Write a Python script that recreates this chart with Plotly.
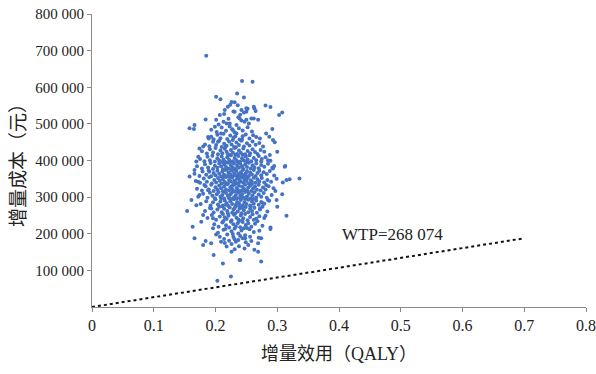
import plotly.graph_objects as go

# Probabilistic sensitivity analysis draws: (incremental QALY, incremental cost in yuan)
psa_draws = [
    # sparse outer points
    (0.185, 686000), (0.243, 617000), (0.260, 615000), (0.235, 583000), (0.246, 572000),
    (0.201, 574000), (0.208, 567000), (0.226, 560000), (0.231, 559000), (0.236, 551000),
    (0.220, 547000), (0.262, 547000), (0.281, 550000), (0.289, 546000), (0.250, 543000),
    (0.158, 488000), (0.166, 497000), (0.165, 486000), (0.184, 512000), (0.207, 524000),
    (0.215, 538000), (0.218, 501000), (0.199, 492000), (0.193, 465000), (0.189, 460000),
    (0.180, 438000), (0.174, 433000), (0.172, 410000), (0.169, 397000), (0.204, 451000),
    (0.209, 474000), (0.228, 483000), (0.223, 501000), (0.239, 515000), (0.247, 506000),
    (0.250, 533000), (0.231, 533000), (0.201, 511000), (0.242, 538000), (0.263, 542000),
    (0.265, 535000), (0.303, 524000), (0.308, 531000), (0.250, 511000), (0.258, 515000),
    (0.269, 511000), (0.292, 486000), (0.282, 474000), (0.287, 465000), (0.293, 456000),
    (0.296, 450000), (0.272, 460000), (0.277, 438000), (0.300, 424000), (0.288, 415000),
    (0.285, 401000), (0.295, 385000), (0.313, 385000), (0.274, 397000), (0.312, 383000),
    (0.320, 349000), (0.336, 351000), (0.315, 347000), (0.309, 340000), (0.297, 317000),
    (0.308, 308000), (0.299, 292000), (0.300, 274000), (0.285, 292000), (0.315, 249000),
    (0.289, 217000), (0.281, 249000), (0.293, 378000), (0.282, 333000), (0.272, 269000),
    (0.277, 283000), (0.163, 219000), (0.154, 262000), (0.161, 292000), (0.158, 356000),
    (0.166, 374000), (0.172, 342000), (0.174, 306000), (0.169, 278000), (0.180, 251000),
    (0.177, 233000), (0.188, 319000), (0.182, 333000), (0.193, 269000), (0.196, 242000),
    (0.190, 369000), (0.166, 188000), (0.180, 169000), (0.184, 180000), (0.193, 174000),
    (0.197, 142000), (0.212, 119000), (0.203, 72000), (0.225, 83000), (0.240, 128000),
    (0.218, 165000), (0.226, 151000), (0.231, 158000), (0.207, 192000), (0.209, 178000),
    (0.196, 215000), (0.201, 198000), (0.274, 188000), (0.270, 189000), (0.263, 156000),
    (0.269, 151000), (0.274, 124000), (0.258, 180000), (0.253, 169000), (0.247, 160000),
    (0.244, 188000), (0.239, 128000), (0.269, 174000), (0.289, 213000),
    # lower core
    (0.226, 172000), (0.238, 166000), (0.249, 177000), (0.215, 175000), (0.233, 178000),
    (0.214, 186000), (0.229, 191000), (0.237, 183000), (0.248, 188000), (0.222, 181000),
    (0.240, 194000), (0.256, 192000), (0.231, 185000),
    (0.204, 203000), (0.213, 211000), (0.219, 198000), (0.226, 207000), (0.231, 214000),
    (0.237, 201000), (0.242, 209000), (0.248, 196000), (0.255, 212000), (0.262, 205000),
    (0.228, 199000), (0.246, 215000), (0.216, 213000), (0.271, 208000),
    (0.198, 226000), (0.205, 219000), (0.211, 231000), (0.217, 223000), (0.222, 217000),
    (0.225, 233000), (0.229, 226000), (0.233, 220000), (0.236, 229000), (0.240, 218000),
    (0.244, 232000), (0.249, 224000), (0.253, 229000), (0.258, 219000), (0.264, 227000),
    (0.268, 234000), (0.213, 235000), (0.238, 235000), (0.251, 216000), (0.276, 222000),
    (0.187, 243000), (0.194, 251000), (0.201, 238000), (0.207, 247000), (0.212, 254000),
    (0.218, 240000), (0.221, 249000), (0.226, 237000), (0.230, 252000), (0.234, 244000),
    (0.237, 239000), (0.241, 250000), (0.245, 242000), (0.248, 254000), (0.252, 237000),
    (0.256, 246000), (0.260, 253000), (0.266, 241000), (0.271, 248000), (0.279, 243000),
    (0.215, 245000), (0.232, 255000), (0.243, 236000), (0.262, 238000),
    (0.183, 262000), (0.191, 270000), (0.197, 258000), (0.203, 266000), (0.206, 274000),
    (0.210, 259000), (0.214, 268000), (0.219, 262000), (0.223, 272000), (0.227, 257000),
    (0.229, 266000), (0.233, 275000), (0.236, 261000), (0.239, 269000), (0.242, 256000),
    (0.246, 264000), (0.249, 273000), (0.253, 259000), (0.256, 268000), (0.259, 262000),
    (0.263, 271000), (0.267, 257000), (0.272, 266000), (0.276, 274000), (0.284, 261000),
    (0.220, 256000), (0.231, 270000), (0.244, 270000), (0.257, 275000), (0.211, 275000),
    # middle core
    (0.176, 281000), (0.185, 289000), (0.192, 277000), (0.196, 286000), (0.200, 294000),
    (0.204, 280000), (0.208, 288000), (0.212, 277000), (0.215, 291000), (0.218, 283000),
    (0.221, 276000), (0.224, 289000), (0.227, 281000), (0.230, 294000), (0.233, 279000),
    (0.235, 287000), (0.238, 283000), (0.241, 292000), (0.244, 278000), (0.247, 286000),
    (0.250, 281000), (0.253, 293000), (0.256, 277000), (0.259, 288000), (0.262, 282000),
    (0.266, 291000), (0.270, 279000), (0.274, 287000), (0.279, 282000), (0.287, 290000),
    (0.226, 295000), (0.239, 276000), (0.248, 295000), (0.209, 296000), (0.261, 295000),
    (0.217, 279000),
    (0.172, 301000), (0.180, 309000), (0.187, 298000), (0.191, 312000), (0.195, 304000),
    (0.199, 297000), (0.202, 308000), (0.205, 314000), (0.208, 301000), (0.211, 306000),
    (0.214, 296000), (0.217, 311000), (0.220, 303000), (0.222, 297000), (0.225, 309000),
    (0.228, 315000), (0.230, 300000), (0.233, 306000), (0.235, 297000), (0.238, 312000),
    (0.240, 303000), (0.243, 308000), (0.245, 298000), (0.248, 314000), (0.251, 302000),
    (0.254, 309000), (0.257, 297000), (0.260, 305000), (0.263, 313000), (0.266, 299000),
    (0.270, 307000), (0.274, 301000), (0.278, 311000), (0.283, 298000), (0.291, 306000),
    (0.213, 315000), (0.236, 315000), (0.252, 316000), (0.223, 306000), (0.241, 296000),
    (0.170, 323000), (0.178, 318000), (0.184, 330000), (0.189, 321000), (0.193, 334000),
    (0.197, 317000), (0.200, 327000), (0.203, 320000), (0.206, 332000), (0.209, 324000),
    (0.212, 316000), (0.214, 329000), (0.217, 321000), (0.219, 335000), (0.222, 318000),
    (0.224, 327000), (0.227, 322000), (0.229, 333000), (0.231, 316000), (0.234, 325000),
    (0.236, 320000), (0.238, 331000), (0.241, 317000), (0.243, 328000), (0.246, 323000),
    (0.248, 334000), (0.251, 319000), (0.253, 326000), (0.256, 331000), (0.258, 317000),
    (0.261, 324000), (0.264, 329000), (0.267, 320000), (0.270, 334000), (0.273, 318000),
    (0.277, 326000), (0.281, 321000), (0.286, 330000), (0.294, 324000), (0.232, 336000),
    (0.244, 318000), (0.216, 337000), (0.259, 336000), (0.226, 330000),
    (0.168, 344000), (0.175, 339000), (0.181, 351000), (0.186, 342000), (0.190, 354000),
    (0.194, 337000), (0.198, 347000), (0.201, 340000), (0.204, 352000), (0.207, 345000),
    (0.210, 337000), (0.212, 349000), (0.215, 341000), (0.217, 355000), (0.220, 338000),
    (0.222, 347000), (0.225, 343000), (0.227, 353000), (0.229, 336000), (0.231, 345000),
    (0.233, 340000), (0.235, 351000), (0.237, 338000), (0.239, 347000), (0.241, 343000),
    (0.243, 354000), (0.245, 339000), (0.247, 348000), (0.250, 344000), (0.252, 352000),
    (0.254, 337000), (0.257, 346000), (0.259, 341000), (0.262, 353000), (0.265, 339000),
    (0.268, 349000), (0.271, 343000), (0.275, 352000), (0.279, 340000), (0.284, 347000),
    (0.290, 342000), (0.299, 350000), (0.236, 356000), (0.223, 356000), (0.249, 356000),
    (0.213, 357000),
    (0.166, 364000), (0.174, 358000), (0.179, 370000), (0.185, 361000), (0.189, 373000),
    (0.193, 357000), (0.197, 366000), (0.200, 360000), (0.203, 372000), (0.206, 364000),
    (0.209, 356000), (0.211, 369000), (0.214, 361000), (0.216, 374000), (0.219, 358000),
    (0.221, 367000), (0.224, 362000), (0.226, 373000), (0.228, 357000), (0.230, 366000),
    (0.232, 360000), (0.234, 371000), (0.237, 363000), (0.239, 356000), (0.241, 368000),
    (0.244, 374000), (0.246, 359000), (0.249, 365000), (0.251, 371000), (0.254, 358000),
    (0.256, 367000), (0.259, 362000), (0.262, 374000), (0.265, 358000), (0.268, 366000),
    (0.271, 372000), (0.274, 360000), (0.278, 368000), (0.283, 363000), (0.288, 371000),
    (0.295, 359000), (0.231, 376000), (0.243, 361000), (0.218, 376000),
    # upper core
    (0.170, 384000), (0.178, 378000), (0.183, 390000), (0.188, 381000), (0.192, 393000),
    (0.196, 377000), (0.199, 386000), (0.203, 380000), (0.206, 392000), (0.209, 384000),
    (0.212, 376000), (0.214, 389000), (0.217, 382000), (0.220, 394000), (0.222, 378000),
    (0.225, 387000), (0.228, 381000), (0.230, 392000), (0.233, 377000), (0.235, 386000),
    (0.238, 380000), (0.240, 391000), (0.243, 384000), (0.245, 377000), (0.248, 389000),
    (0.251, 382000), (0.254, 394000), (0.257, 378000), (0.260, 387000), (0.263, 381000),
    (0.266, 392000), (0.270, 379000), (0.274, 388000), (0.279, 383000), (0.285, 391000),
    (0.292, 380000), (0.236, 395000), (0.224, 396000), (0.250, 396000), (0.211, 396000),
    (0.175, 404000), (0.182, 398000), (0.187, 410000), (0.191, 401000), (0.195, 413000),
    (0.199, 397000), (0.203, 406000), (0.206, 400000), (0.210, 411000), (0.213, 403000),
    (0.216, 396000), (0.219, 409000), (0.222, 402000), (0.225, 414000), (0.228, 398000),
    (0.231, 407000), (0.234, 401000), (0.237, 412000), (0.240, 397000), (0.243, 406000),
    (0.246, 400000), (0.249, 411000), (0.252, 403000), (0.255, 414000), (0.258, 398000),
    (0.262, 407000), (0.266, 401000), (0.270, 412000), (0.275, 404000), (0.281, 409000),
    (0.289, 399000), (0.232, 416000), (0.244, 416000), (0.220, 417000),
    (0.178, 425000), (0.186, 419000), (0.191, 431000), (0.196, 422000), (0.200, 434000),
    (0.204, 417000), (0.208, 427000), (0.211, 420000), (0.215, 432000), (0.218, 424000),
    (0.222, 416000), (0.225, 429000), (0.228, 422000), (0.231, 434000), (0.235, 418000),
    (0.238, 427000), (0.241, 421000), (0.245, 433000), (0.248, 417000), (0.252, 426000),
    (0.256, 420000), (0.260, 431000), (0.264, 423000), (0.268, 418000), (0.273, 429000),
    (0.279, 424000), (0.233, 436000), (0.216, 437000),
    (0.183, 444000), (0.190, 439000), (0.196, 451000), (0.201, 442000), (0.206, 454000),
    (0.210, 437000), (0.214, 446000), (0.218, 440000), (0.222, 452000), (0.226, 444000),
    (0.230, 437000), (0.234, 449000), (0.238, 442000), (0.242, 454000), (0.246, 438000),
    (0.251, 447000), (0.255, 441000), (0.260, 452000), (0.265, 443000), (0.271, 448000),
    (0.228, 456000), (0.243, 457000),
    (0.188, 464000), (0.197, 458000), (0.203, 470000), (0.208, 461000), (0.213, 473000),
    (0.219, 459000), (0.224, 468000), (0.229, 462000), (0.234, 474000), (0.239, 457000),
    (0.244, 466000), (0.249, 471000), (0.255, 460000), (0.261, 469000), (0.266, 464000),
    (0.232, 466000),
    (0.193, 484000), (0.202, 478000), (0.210, 490000), (0.217, 481000), (0.223, 493000),
    (0.231, 477000), (0.238, 488000), (0.244, 482000), (0.252, 491000), (0.259, 479000),
    (0.227, 485000),
    (0.205, 498000), (0.213, 506000), (0.221, 514000), (0.234, 497000), (0.242, 509000),
    (0.254, 501000), (0.237, 518000), (0.262, 515000),
    (0.214, 527000), (0.229, 534000), (0.240, 525000), (0.252, 541000), (0.224, 552000),
    (0.246, 531000),
]

incr_qaly = [d[0] for d in psa_draws]
incr_cost = [d[1] for d in psa_draws]

# Willingness-to-pay threshold line
wtp_value = 268074
wtp_qaly = [0, 0.7]
wtp_cost = [q * wtp_value for q in wtp_qaly]
wtp_label = "WTP=268 074"

x_ticks = [0, 0.1, 0.2, 0.3, 0.4, 0.5, 0.6, 0.7, 0.8]
x_ticktext = ["0", "0.1", "0.2", "0.3", "0.4", "0.5", "0.6", "0.7", "0.8"]
y_ticks = [100000, 200000, 300000, 400000, 500000, 600000, 700000, 800000]
y_ticktext = ["100 000", "200 000", "300 000", "400 000", "500 000", "600 000", "700 000", "800 000"]

FONT = "Liberation Serif, Times New Roman, Noto Sans CJK SC, serif"
AXIS_COLOR = "#8a8a8a"
TEXT_COLOR = "#222222"

fig = go.Figure()
fig.add_trace(go.Scatter(
    x=incr_qaly, y=incr_cost, mode="markers",
    marker=dict(color="#4472c4", size=4, line=dict(width=0)),
    showlegend=False, hoverinfo="skip",
))
fig.add_trace(go.Scatter(
    x=wtp_qaly, y=wtp_cost, mode="lines",
    line=dict(color="#111111", width=2, dash="dot"),
    showlegend=False, hoverinfo="skip",
))
fig.add_annotation(
    x=0.401, y=199000, text=wtp_label, showarrow=False,
    xanchor="left", yanchor="middle",
    font=dict(family=FONT, size=17, color=TEXT_COLOR),
)

fig.update_layout(
    width=596, height=374,
    margin=dict(l=92, r=10, t=14, b=67, autoexpand=False),
    paper_bgcolor="white", plot_bgcolor="white",
    font=dict(family=FONT, size=15, color=TEXT_COLOR),
)
fig.update_xaxes(
    range=[0, 0.8], tickvals=x_ticks, ticktext=x_ticktext,
    tickfont=dict(family=FONT, size=16, color=TEXT_COLOR),
    showline=True, linecolor=AXIS_COLOR, linewidth=1,
    ticks="outside", ticklen=4, tickcolor=AXIS_COLOR,
    showgrid=False, zeroline=False, automargin=False,
    title=dict(text="增量效用（QALY）", font=dict(family=FONT, size=18, color=TEXT_COLOR), standoff=14),
)
fig.update_yaxes(
    range=[0, 800000], tickvals=y_ticks, ticktext=y_ticktext,
    tickfont=dict(family=FONT, size=15, color=TEXT_COLOR),
    showline=True, linecolor=AXIS_COLOR, linewidth=1,
    ticks="outside", ticklen=4, tickcolor=AXIS_COLOR,
    showgrid=False, zeroline=False, automargin=False,
    title=dict(text="增量成本（元）", font=dict(family=FONT, size=19, color=TEXT_COLOR), standoff=4),
)

fig.write_html("out.html")
